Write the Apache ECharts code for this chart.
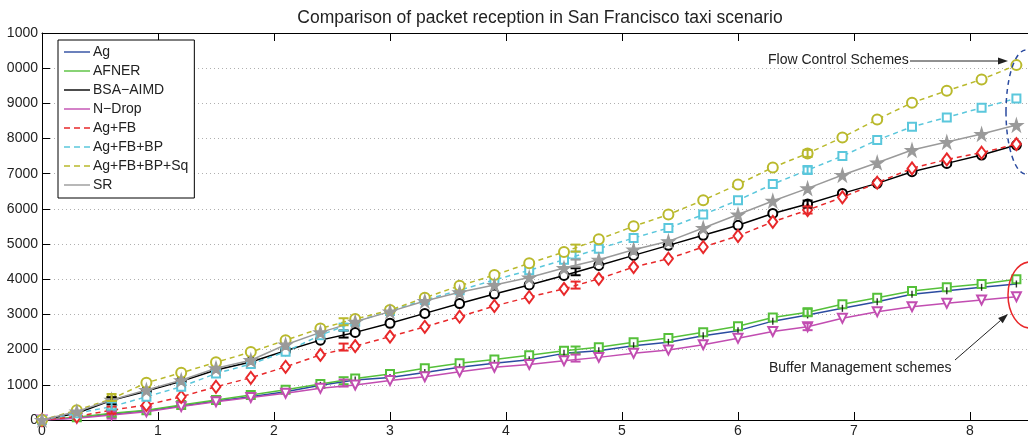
<!DOCTYPE html>
<html><head><meta charset="utf-8">
<script src="https://cdn.jsdelivr.net/npm/echarts@6/dist/echarts.min.js"></script>
<style>html,body{margin:0;padding:0;background:#fff}#c{width:1028px;height:438px}</style>
</head><body><div id="c"></div>
<script>
// ---- data ----
const titleText = 'Comparison of packet reception in San Francisco taxi scenario';
const xValues = [0,0.3,0.6,0.9,1.2,1.5,1.8,2.1,2.4,2.7,3.0,3.3,3.6,3.9,4.2,4.5,4.8,5.1,5.4,5.7,6.0,6.3,6.6,6.9,7.2,7.5,7.8,8.1,8.4];
const xTickLabels = ['0','1','2','3','4','5','6','7','8'];
const yTickLabels = ['0','1000','2000','3000','4000','5000','6000','7000','8000','9000','0000','1000'];
const seriesNames = ['Ag','AFNER','BSA\u2212AIMD','N\u2212Drop','Ag+FB','Ag+FB+BP','Ag+FB+BP+Sq','SR'];
const ag      = [0,65,170,265,400,540,660,800,985,1135,1210,1350,1500,1610,1715,1894,1970,2112,2207,2397,2540,2810,2985,3174,3364,3572,3676,3771,3866];
const afner   = [0,75,190,280,425,570,710,860,1020,1180,1310,1470,1610,1720,1840,1970,2065,2207,2331,2492,2664,2915,3061,3288,3477,3667,3771,3866,3998];
const bsaAimd = [0,190,560,820,1100,1420,1650,1970,2270,2490,2750,3030,3310,3580,3840,4108,4394,4679,4964,5249,5534,5870,6138,6441,6726,7057,7294,7530,7815];
const nDrop   = [0,50,140,235,380,520,640,760,900,995,1120,1230,1370,1500,1580,1684,1780,1894,1989,2141,2321,2516,2653,2890,3080,3222,3316,3411,3506];
const agFb    = [0,100,280,425,660,945,1200,1512,1850,2100,2370,2650,2935,3240,3495,3728,4013,4346,4584,4917,5230,5633,5968,6328,6744,7152,7407,7597,7843];
const agFbBp  = [0,190,380,660,945,1320,1590,1940,2410,2790,3100,3410,3690,3980,4255,4555,4869,5173,5458,5839,6247,6705,7104,7502,7957,8335,8601,8875,9140];
const agFbBpSq= [0,280,600,1060,1340,1640,1930,2270,2600,2870,3125,3475,3815,4120,4455,4774,5135,5506,5839,6247,6694,7180,7578,8032,8544,9017,9358,9680,10087];
const sr      = [0,240,570,850,1130,1470,1700,2140,2490,2790,3080,3380,3630,3835,4050,4318,4555,4840,5078,5458,5839,6226,6583,6962,7313,7673,7900,8127,8383];
// error bar positions and centres (null = none drawn)
const errX = [0.6,2.6,4.6,6.6];
const errAfner   = [190,1117,1989,3061];
const errBsa     = [550,2443,4214,6138];
const errNDrop   = [140,1050,1760,2653];
const errAgFb    = [280,2073,3835,5968];
const errAgFbBp  = [400,2640,4687,7104];
const errAgFbBpSq= [640,2793,4886,7578];
const errSr      = [null,null,4460,null];

// ---- styles ----
const colors = ['#2B4BA0','#55C03A','#000000','#C24DB1','#E8282A','#5BC7DC','#B9B92C','#9A9A9A'];
const starPath = 'path://M50,0 L61,35 L98,35 L68,57 L79,91 L50,70 L21,91 L32,57 L2,35 L39,35 Z';
const solidIcon = 'path://M0,0h26v1.4h-26z';
const dashIcon = 'path://M0,0h6v1.4h-6zM10,0h6v1.4h-6zM20,0h6v1.4h-6z';

const allVals = [ag,afner,bsaAimd,nDrop,agFb,agFbBp,agFbBpSq,sr];
const allErr = [null,errAfner,errBsa,errNDrop,errAgFb,errAgFbBp,errAgFbBpSq,errSr];
const dashed = [false,false,false,false,true,true,true,false];
const symbols = [['none',0,0],['emptyRect',8,0],['emptyCircle',9,0],['emptyTriangle',9,180],['emptyDiamond',[9,12],0],['emptyRect',8,0],['emptyCircle',10,0],[starPath,13,0]];

const series = [];
seriesNames.forEach((name,i)=>{
  const s = symbols[i];
  series.push({
    name, type:'line', xAxisIndex:0, yAxisIndex:0,
    data: xValues.map((x,k)=>[x, allVals[i][k]]),
    symbol: s[0], symbolSize: s[1], symbolRotate: s[2], showSymbol: s[0] !== 'none',
    lineStyle:{color:colors[i], width:1.5, type: dashed[i] ? [5,4] : 'solid'},
    itemStyle:{color: colors[i], borderWidth:1.2, borderColor: colors[i]},
    emphasis:{disabled:true}, animation:false, z: 2 + i
  });
});
// small black tick marks on the Ag curve
series.push({
  type:'scatter', xAxisIndex:0, yAxisIndex:0, silent:true, animation:false, z:3,
  data: xValues.map((x,k)=>[x, ag[k]]),
  symbol:'rect', symbolSize:[1.4,7], itemStyle:{color:'#000'}
});
allErr.forEach((arr,i)=>{
  if(!arr) return;
  const data = [];
  errX.forEach((x,k)=>{ if(arr[k]!=null) data.push([x, arr[k]]); });
  series.push({
    type:'custom', xAxisIndex:0, yAxisIndex:0, data, z: 10 + i, silent:true, animation:false,
    renderItem:(params, api)=>{
      const p = api.coord([api.value(0), api.value(1)]);
      const c = colors[i], w = 5, h = 3.5;
      return {type:'group', children:[
        {type:'line', shape:{x1:p[0],y1:p[1]-h,x2:p[0],y2:p[1]+h}, style:{stroke:c, lineWidth:2}},
        {type:'line', shape:{x1:p[0]-w,y1:p[1]-h,x2:p[0]+w,y2:p[1]-h}, style:{stroke:c, lineWidth:2}},
        {type:'line', shape:{x1:p[0]-w,y1:p[1]+h,x2:p[0]+w,y2:p[1]+h}, style:{stroke:c, lineWidth:2}}
      ]};
    }
  });
});

const font = 'Liberation Sans';
const chart = echarts.init(document.getElementById('c'), null, {renderer:'canvas'});

function arrow(x1,y1,x2,y2){
  const a = Math.atan2(y2-y1, x2-x1), L = 10, W = 3.5;
  const bx = x2 - L*Math.cos(a), by = y2 - L*Math.sin(a);
  const px = -Math.sin(a)*W, py = Math.cos(a)*W;
  return [
    {type:'line', shape:{x1,y1,x2:bx,y2:by}, style:{stroke:'#222', lineWidth:1}, z:50},
    {type:'polygon', shape:{points:[[x2,y2],[bx+px,by+py],[bx-px,by-py]]}, style:{fill:'#222'}, z:50}
  ];
}

chart.setOption({
  backgroundColor:'#fff',
  animation:false,
  title:{text:titleText, left:535, top:4, textAlign:'center',
    textStyle:{fontFamily:font, fontSize:17.5, fontWeight:'normal', color:'#222'}},
  grid:{left:42, top:33, width:994.5, height:387, containLabel:false},
  xAxis:[{
    type:'value', min:0, max:8.5, interval:1,
    axisLine:{show:true, lineStyle:{color:'#000', width:1}},
    axisTick:{show:true, inside:true, length:8, lineStyle:{color:'#000'}},
    axisLabel:{show:true, margin:4, fontFamily:font, fontSize:14, color:'#222', showMaxLabel:false,
      formatter:(v)=>{const i=Math.round(v); return (Math.abs(v-i)<1e-6 && xTickLabels[i]!=null)? xTickLabels[i] : '';}},
    splitLine:{show:false}
  },{
    type:'value', position:'top', min:0, max:8.5, interval:1,
    axisLine:{show:true, onZero:false, lineStyle:{color:'#000', width:1}},
    axisTick:{show:true, inside:true, length:8, lineStyle:{color:'#000'}},
    axisLabel:{show:false}, splitLine:{show:false}
  }],
  yAxis:[{
    type:'value', min:0, max:11000, interval:1000,
    axisLine:{show:true, lineStyle:{color:'#000', width:1}},
    axisTick:{show:true, inside:true, length:8, lineStyle:{color:'#000'}},
    axisLabel:{show:true, margin:4, fontFamily:font, fontSize:14, color:'#222',
      formatter:(v)=>yTickLabels[Math.round(v/1000)]},
    splitLine:{show:true, lineStyle:{color:'#b0b0b0', width:1, type:[1,3]}}
  }],
  legend:{
    left:58, top:40, orient:'vertical',
    backgroundColor:'#fff', borderColor:'#000', borderWidth:1,
    padding:[5,6,6,6], itemWidth:26, itemHeight:1.4, itemGap:5,
    itemStyle:{borderWidth:0},
    textStyle:{fontFamily:font, fontSize:14, color:'#222', padding:[0,0,0,-2]},
    data: seriesNames.map((n,i)=>({name:n, icon: dashed[i]?dashIcon:solidIcon})),
    selectedMode:false
  },
  graphic:[
    {type:'text', left:768, top:53, style:{text:'Flow Control Schemes', font:'14px "Liberation Sans"', fill:'#222'}, z:50},
    ...arrow(910,61,1008,61),
    {type:'ellipse', shape:{cx:1026, cy:112, rx:20, ry:62}, style:{fill:'none', stroke:'#2B4BA0', lineWidth:1.5, lineDash:[5,4]}, z:50},
    {type:'text', left:769, top:361, style:{text:'Buffer Management schemes', font:'14px "Liberation Sans"', fill:'#222'}, z:50},
    ...arrow(955,360,1008,314),
    {type:'ellipse', shape:{cx:1030, cy:295, rx:22, ry:33}, style:{fill:'none', stroke:'#E8282A', lineWidth:1.5}, z:50}
  ],
  series
});
</script></body></html>
